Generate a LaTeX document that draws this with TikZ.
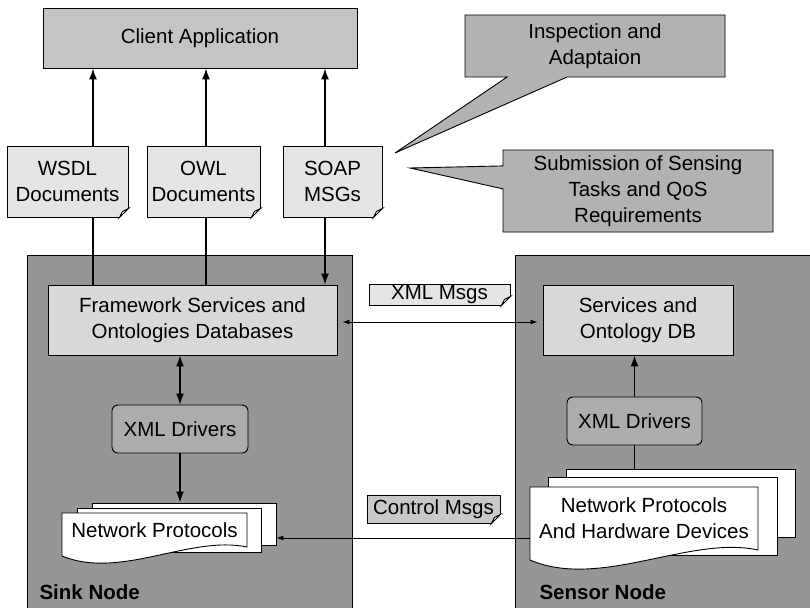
\documentclass[tikz,border=0pt]{standalone}
\usepackage{fontspec}
\setmainfont{Liberation Sans}
\usepackage{tikz}
\usetikzlibrary{arrows.meta,positioning,shapes.callouts}
\definecolor{panel}{RGB}{150,150,150}
\definecolor{client}{RGB}{196,196,196}
\definecolor{paper}{RGB}{228,228,228}
\definecolor{store}{RGB}{216,216,216}
\definecolor{note}{RGB}{178,178,178}
\definecolor{driver}{RGB}{172,172,172}
\definecolor{tag}{RGB}{200,200,200}

\begin{document}
\begin{tikzpicture}[x=1pt, y=-1pt, font=\fontsize{20.5}{26}\selectfont,
    >={Latex[length=11pt,width=8pt]},
    box/.style={draw, line width=0.9pt, align=center, inner sep=1pt},
    doc/.style={box, fill=paper, minimum height=71},
    sheet/.style={draw, line width=0.9pt, fill=white},
    note/.style={box, fill=note, rectangle callout},
    arr/.style={line width=1.4pt, ->},
    link/.style={line width=1.4pt},
    msg/.style={line width=0.9pt, >={Latex[length=7pt,width=5pt]}}]
  \useasboundingbox (0,0) rectangle (810,607);
  \clip (0,0) rectangle (810,607);

  % client side: application, exchanged documents, callouts
  \node[box, fill=client, minimum width=314, minimum height=60] (client) at (200,38) {Client Application};
  \node[doc, minimum width=121] (wsdl) at (67.5,181.5) {WSDL\\Documents};
  \node[doc, minimum width=113] (owl) at (203.5,181.5) {OWL\\Documents};
  \node[doc, minimum width=99] (soap) at (332.5,181.5) {SOAP\\MSGs};
  \node[note, minimum width=260, minimum height=62, callout absolute pointer={(395,153)},
    callout pointer width=60] (inspect) at (595,46) {Inspection and\\Adaptaion};
  \node[note, minimum width=270, minimum height=82, callout absolute pointer={(410,168)},
    callout pointer width=23] (submit) at (638,191) {Submission of Sensing\\Tasks and QoS\\Requirements};

  % the two nodes
  \node[box, fill=panel, anchor=north west, minimum width=325, minimum height=360] (sinkpanel) at (27,255) {};
  \node[box, fill=panel, anchor=north west, minimum width=300, minimum height=360] (sensorpanel) at (515,255) {};
  \node[anchor=west] (sinklabel) at (36,592) {\bfseries Sink Node};
  \node[anchor=west] (sensorlabel) at (536,592) {\bfseries Sensor Node};

  \node[box, fill=store, minimum width=289, minimum height=70] (framework) at (192.5,320) {Framework Services and\\Ontologies Databases};
  \node[box, fill=driver, rounded corners=6pt, minimum width=136, minimum height=48] (sinkxml) at (180,429) {XML Drivers};
  \node[box, fill=store, minimum width=190, minimum height=70] (sensordb) at (638,320) {Services and\\Ontology DB};
  \node[box, fill=driver, rounded corners=6pt, minimum width=135, minimum height=48] (sensorxml) at (634.5,421) {XML Drivers};

  % stacked protocol sheets
  \node[sheet, minimum width=184, minimum height=42] (sinkback) at (184,524) {};
  \node[sheet, minimum width=184, minimum height=44] (sinkmid) at (169,530) {};
  \draw[sheet] (62,513) -- (247,513) -- (247,547) .. controls (190,535) and (120,580) .. (62,556) -- cycle;
  \node[align=center, minimum width=185, minimum height=34] (sinknet) at (154.5,530) {Network Protocols};

  \node[sheet, minimum width=229, minimum height=68] (sensorback) at (680.5,503) {};
  \node[sheet, minimum width=229, minimum height=78] (sensormid) at (662.5,516) {};
  \draw[sheet] (530,487) -- (758,487) -- (758,550) .. controls (690,535) and (600,590) .. (530,560) -- cycle;
  \node[align=center, minimum width=228, minimum height=63] (sensornet) at (644,518.5) {Network Protocols\\And Hardware Devices};

  % message tags
  \node[box, fill=paper, minimum width=141, minimum height=21, inner sep=0pt] (xmlmsg) at (439.5,294.5) {XML Msgs};
  \node[box, fill=tag, minimum width=133, minimum height=28] (ctrlmsg) at (433.5,509) {Control Msgs};

  % folded corners
  \foreach \n in {wsdl,owl,soap,xmlmsg,ctrlmsg} {
    \fill[white] ([shift={(1pt,-1pt)}]\n.south east) -- ++(-11,0) -- ++(11,-11) -- cycle;
    \draw[line width=0.9pt, fill=white] (\n.south east) ++(-9,0) -- ++(9,-9) -- ++(-6,3) -- cycle;
  }

  % links
  \foreach \n/\dx in {wsdl/25.5, owl/2.5, soap/-7.5}
    \draw[arr] ([xshift=\dx]\n.north) -- ([xshift=\dx]\n.north |- client.south);
  \foreach \n/\dx in {wsdl/25.5, owl/2.5}
    \draw[link] ([xshift=\dx]\n.south) -- ([xshift=\dx]\n.south |- framework.north);
  \draw[arr] ([xshift=-7.5]soap.south) -- ([xshift=-7.5]soap.south |- framework.north);

  \draw[arr, <->] (sinkxml.north) -- (sinkxml.north |- framework.south);
  \draw[arr] (sinkxml.south) -- (sinkxml.south |- sinkback.north);
  \draw[link] (sensorxml.south |- sensorback.north) -- (sensorxml.south);
  \draw[arr] (sensorxml.north) -- (sensorxml.north |- sensordb.south);

  \draw[msg, <->, shorten <=5pt, shorten >=5pt] ([yshift=-2pt]framework.east) -- ([yshift=-2pt]sensordb.west);
  \draw[msg, ->] ([yshift=-19.5pt]sensornet.west) -- ([yshift=-19.5pt]sensornet.west -| sinkback.east);
\end{tikzpicture}
\end{document}
